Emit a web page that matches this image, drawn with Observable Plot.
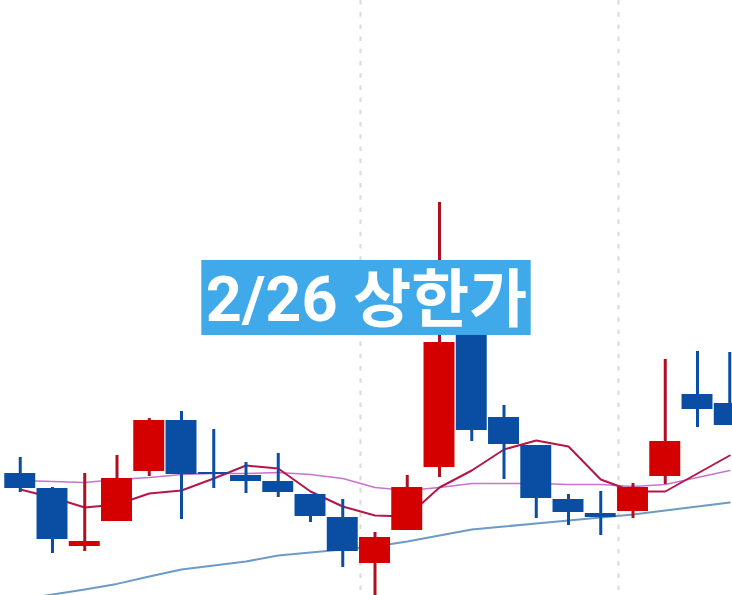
<!DOCTYPE html>
<html><head><meta charset="utf-8">
<script src="https://cdn.jsdelivr.net/npm/d3@7"></script>
<script src="https://cdn.jsdelivr.net/npm/@observablehq/plot@0.6"></script>
<style>html,body{margin:0;padding:0;background:#fff;overflow:hidden}#chart svg{display:block}</style>
</head><body><div id="chart"></div>
<script>
// candle index (trading days)
const days  = d3.range(1, 24);
const open  = [2610,2535,2245,2370,2620,2875,2615,2600,2570,2505,2390,2160,2325,2640,3320,2890,2750,2480,2410,2420,2595,3005,2960];
const high  = [2690,2540,2610,2700,2885,2920,2830,2665,2710,2505,2480,2315,2600,3965,3400,2950,2750,2505,2520,2560,3180,3220,3215];
const low   = [2515,2210,2220,2370,2595,2380,2535,2510,2490,2365,2140,1975,2325,2590,2770,2580,2385,2350,2300,2385,2555,2840,2850];
const close = [2535,2280,2270,2585,2875,2605,2605,2570,2515,2395,2220,2290,2540,3265,2825,2755,2485,2415,2390,2540,2770,2930,2850];
const ma5   = [2530,2490,2440,2455,2510,2525,2585,2650,2635,2520,2445,2400,2395,2540,2625,2730,2775,2745,2580,2520,2520,2610,2700];
const ma20  = [2575,2570,2565,2580,2590,2605,2610,2610,2615,2605,2585,2540,2525,2540,2560,2560,2560,2555,2555,2545,2555,2590,2625];
const ma60  = [1980,2005,2030,2058,2095,2130,2150,2170,2200,2215,2230,2245,2270,2300,2330,2345,2360,2375,2390,2405,2425,2445,2465];
const periodStarts = [12, 20];
const labelText = "2/26 상한가";
const labelDay = 14;
const labelPrice = 3471;

const candles = days.map((d, k) => ({d, open: open[k], high: high[k], low: low[k], close: close[k], up: close[k] >= open[k]}));
const lines = (arr) => days.map((d, k) => ({d, v: arr[k]}));

const RED = "#d40000", RED_WICK = "#ad1020", BLUE = "#0a4ea3";
const FS = 63;

const plot = Plot.plot({
  width: 732, height: 595,
  marginLeft: 0, marginRight: 0, marginTop: 0, marginBottom: 0,
  x: {type: "linear", domain: [0.3876, 23.085], axis: null},
  y: {type: "linear", domain: [2000, 4975], axis: null},
  marks: [
    Plot.ruleX(periodStarts, {x: d => d - 0.45, stroke: "#dcdcdc", strokeWidth: 2.2, strokeDasharray: "4.5,7.7"}),
    Plot.line(lines(ma60), {x: "d", y: "v", stroke: "#6b9bc6", strokeWidth: 2, clip: true}),
    Plot.line(lines(ma20), {x: "d", y: "v", stroke: "#c873cf", strokeWidth: 1.6, clip: true}),
    Plot.line(lines(ma5), {x: "d", y: "v", stroke: "#b3174a", strokeWidth: 2, clip: true}),
    Plot.ruleX(candles, {x: "d", y1: "low", y2: "high", stroke: d => d.up ? RED_WICK : BLUE, strokeWidth: 3, clip: true}),
    Plot.rect(candles, {x1: d => d.d - 0.48, x2: d => d.d + 0.48, y1: "open", y2: "close", fill: d => d.up ? RED : BLUE, clip: true}),
    Plot.text([labelText], {x: () => labelDay, y: () => labelPrice, dx: -73, text: d => d, fill: "white", fontSize: FS, fontWeight: "bold",
      fontFamily: "Roboto, 'Noto Sans CJK KR', sans-serif", textAnchor: "middle", lineAnchor: "middle"})
  ]
});
document.getElementById("chart").append(plot);

// label background box behind the text
const tg = plot.querySelector('g[aria-label="text"]');
const t = tg.querySelector("text");
const bb = t.getBBox();
const cx = plot.scale("x").apply(labelDay) - 73;
const ty = plot.scale("y").apply(labelPrice);
const baseline = ty + 0.32 * FS;
const r = document.createElementNS("http://www.w3.org/2000/svg", "rect");
r.setAttribute("x", cx - bb.width / 2 - 4);
r.setAttribute("width", bb.width + 8);
r.setAttribute("y", baseline - 61);
r.setAttribute("height", 75);
r.setAttribute("fill", "#3fa9ea");
tg.parentNode.insertBefore(r, tg);
</script></body></html>
